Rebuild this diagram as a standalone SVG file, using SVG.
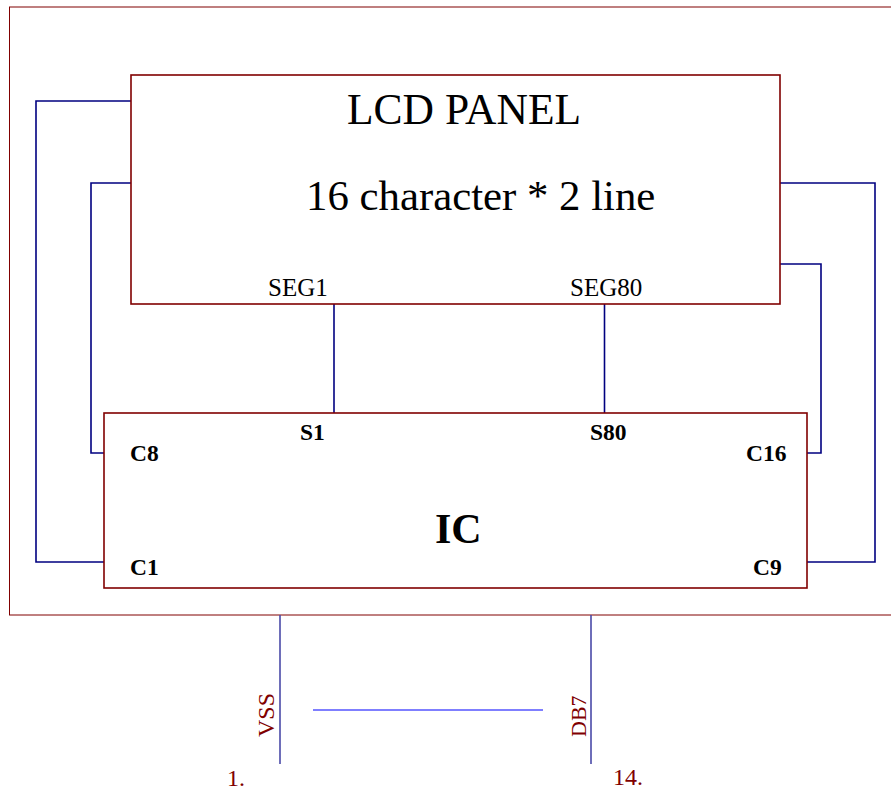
<svg xmlns="http://www.w3.org/2000/svg" width="891" height="794" viewBox="0 0 891 794">
<style>
.frame{fill:none;stroke:#800000;stroke-width:1}
.box{fill:#ffffff;stroke:#800000;stroke-width:1.6}
.wire{fill:none;stroke:#000080;stroke-width:1.6}
.pin{fill:none;stroke:#4a4aa8;stroke-width:1.6}
.span{fill:none;stroke:#0000ff;stroke-width:1.2}
.t{font-family:"Liberation Serif","Times New Roman",serif;fill:#000}
.lbl{font-size:25px}
.b{font-size:23.5px;font-weight:bold}
.big{font-size:43.5px}
.red{fill:#800000}
</style>
<rect class="frame" x="9.5" y="7" width="900" height="608"/>
<g id="connectors">
<polyline class="wire" points="131,101 36,101 36,562 104,562"/>
<polyline class="wire" points="131,183 91,183 91,453 104,453"/>
<polyline class="wire" points="780,183 875,183 875,562 807,562"/>
<polyline class="wire" points="780,264 821,264 821,453 807,453"/>
<line class="wire" x1="334" y1="304" x2="334" y2="413"/>
<line class="wire" x1="604.5" y1="304" x2="604.5" y2="413"/>
<line class="pin" x1="280" y1="615" x2="280" y2="764"/>
<line class="pin" x1="591" y1="615" x2="591" y2="764"/>
<line class="span" x1="415" y1="291" x2="537" y2="291"/>
<line class="span" x1="374" y1="433" x2="578" y2="433"/>
<line class="span" x1="144.5" y1="480" x2="144.5" y2="548"/>
<line class="span" x1="767" y1="480" x2="767" y2="548"/>
<line class="span" x1="313" y1="710" x2="543" y2="710"/>
</g>
<g id="lcd">
<rect class="box" x="131" y="75" width="649" height="229"/>
<text class="t big" x="347" y="124">LCD PANEL</text>
<text class="t big" x="306" y="210" style="font-size:42.8px">16 character * 2 line</text>
<text class="t lbl" x="268" y="296">SEG1</text>
<text class="t lbl" x="570" y="296">SEG80</text>
</g>
<g id="ic">
<rect class="box" x="104" y="413" width="703" height="175"/>
<text class="t b" x="300" y="440">S1</text>
<text class="t b" x="590" y="440">S80</text>
<text class="t b" x="130" y="461">C8</text>
<text class="t b" x="130" y="575">C1</text>
<text class="t b" x="746" y="461">C16</text>
<text class="t b" x="753" y="575">C9</text>
<text class="t big" x="435" y="543" font-weight="bold" style="font-size:42px">IC</text>
</g>
<g id="pins">
<text class="t lbl red" transform="translate(273.5,737) rotate(-90)" style="font-size:24px">VSS</text>
<text class="t lbl red" transform="translate(586,737) rotate(-90)" style="font-size:22px">DB7</text>
<text class="t lbl red" x="227" y="786" style="font-size:24px">1.</text>
<text class="t lbl red" x="613" y="785" style="font-size:24px">14.</text>
</g>
</svg>
